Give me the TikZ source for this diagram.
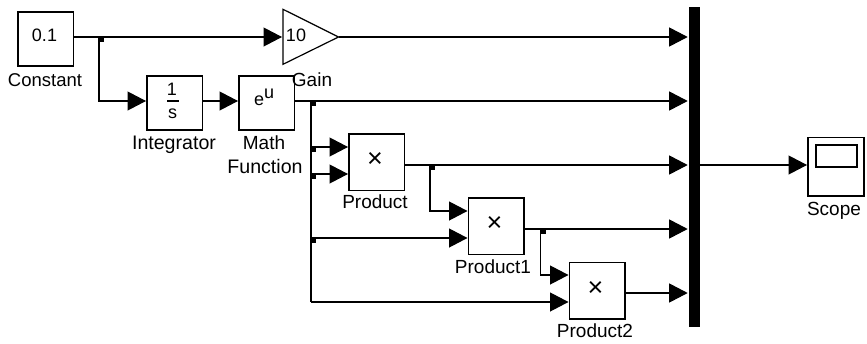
\documentclass[tikz,border=0pt]{standalone}
\usepackage{fontspec}
\setmainfont{Liberation Sans}
\usetikzlibrary{arrows.meta,calc}
\tikzset{
  x=1pt,y=-1pt,
  blockbox/.style={draw=black,line width=1.2pt,fill=white,rectangle,inner sep=0pt,outer sep=0pt,anchor=north west,minimum width=#1},
  blockbox/.default=55.5pt,
  lbl/.style={anchor=base,inner sep=0pt,outer sep=0pt,font=\fontsize{19}{20}\selectfont},
  lblwide/.style={lbl,font=\fontsize{19.6}{20}\selectfont},
  lblnarrow/.style={lbl,font=\fontsize{18.5}{20}\selectfont},
  inner/.style={anchor=base,inner sep=0pt,outer sep=0pt,font=\fontsize{18}{20}\selectfont},
  timeslbl/.style={anchor=center,inner sep=0pt,outer sep=0pt,font=\fontsize{27}{27}\selectfont},
  wire/.style={line width=1.1pt,draw=black},
  arrowwire/.style={wire,-{Triangle[length=18.5pt,width=19pt]},shorten >=1pt},
  junction/.style={fill=black,rectangle,inner sep=0pt,outer sep=0pt,minimum size=5.2pt,anchor=north west},
}
\begin{document}
\begin{tikzpicture}
\useasboundingbox (0,0) rectangle (867,343);
% blocks
\node[blockbox,minimum height=54pt] (const) at (18,12) {};
\node[blockbox,minimum height=54pt] (integ) at (147,76) {};
\node[blockbox,minimum height=54pt] (math) at (239,76) {};
\node[blockbox,minimum height=56.5pt] (prodA) at (349,134) {};
\node[blockbox,minimum height=56.5pt] (prodB) at (468.5,198) {};
\node[blockbox,minimum height=56.5pt] (prodC) at (569.5,262.5) {};
\node[blockbox=56pt,minimum height=58.5pt] (scope) at (808,137.5) {};
\node[draw=black,line width=1.2pt,inner sep=0pt,outer sep=0pt,anchor=north west,minimum width=41pt,minimum height=22pt] (screen) at (816,145) {};
\node[fill=black,inner sep=0pt,outer sep=0pt,anchor=north west,minimum width=11pt,minimum height=320pt] (bus) at (688.7,7) {};
% gain triangle
\coordinate (gainin) at (283,37);
\coordinate (gainout) at (338.5,37);
\draw[line width=1.2pt,line join=miter] (283,9.3) -- (gainout) -- (283,64.3) -- cycle;
% ports
\coordinate (pAa) at (349,147);
\coordinate (pAb) at (349,174);
\coordinate (pBa) at (468.5,211);
\coordinate (pBb) at (468.5,238);
\coordinate (pCa) at (569.5,275);
\coordinate (pCb) at (569.5,302);
\coordinate (pAo) at (404.5,165);
\coordinate (pBo) at (524,229);
\coordinate (pCo) at (625,293);
\coordinate (cout) at (73.5,37);
\coordinate (iin) at (147,101);
\coordinate (iout) at (202.5,101);
\coordinate (min) at (239,101);
\coordinate (mout) at (294.5,101);
\coordinate (scin) at (808,165);
% junction anchors on the wires
\coordinate (ja) at (99,37);
\coordinate (jb) at (311,101);
\coordinate (jc) at (430,165);
\coordinate (jd) at (540.3,229);
% wires
\draw[arrowwire] (cout) -- (gainin);
\draw[arrowwire] (ja) |- (iin);
\draw[arrowwire] (iout) -- (min);
\draw[arrowwire] (gainout) -- (bus.west |- gainout);
\draw[arrowwire] (mout) -- (bus.west |- mout);
\draw[arrowwire] (pAo) -- (bus.west |- pAo);
\draw[arrowwire] (pBo) -- (bus.west |- pBo);
\draw[arrowwire] (pCo) -- (bus.west |- pCo);
\draw[arrowwire] (bus.east |- scin) -- (scin);
\draw[wire] (jb) -- (jb |- pCb);
\draw[arrowwire] (jb |- pAa) -- (pAa);
\draw[arrowwire] (jb |- pAb) -- (pAb);
\draw[arrowwire] (jb |- pBb) -- (pBb);
\draw[arrowwire] (jb |- pCb) -- (pCb);
\draw[arrowwire] (jc) |- (pBa);
\draw[arrowwire] (jd) |- (pCa);
% junction dots
\node[junction] (dotA) at (ja) {};
\node[junction] (dotB) at (jb) {};
\node[junction] (dotC) at (jb |- pAa) {};
\node[junction] (dotD) at (jb |- pAb) {};
\node[junction] (dotE) at (jb |- pBb) {};
\node[junction] (dotF) at (jc) {};
\node[junction] (dotG) at (jd) {};
% block contents
\node[inner] (tconst) at (44.5,41) {0.1};
\node[inner] (tgain) at (296,41) {10};
\node[inner] (tone) at (172,95) {1};
\draw[line width=1.1pt] (167,101) -- (178.5,101);
\node[inner] (ts) at (172.5,118) {s};
\node[inner,anchor=base west] (texp) at (254,105) {e\raisebox{6.5pt}{u}};
\node[timeslbl] (tA) at (375,160) {×};
\node[timeslbl] (tB) at (494.5,224) {×};
\node[timeslbl] (tC) at (595.5,288.5) {×};
% labels
\node[lblnarrow] (lconst) at (45,86) {Constant};
\node[lbl] (lgain) at (312,86) {Gain};
\node[lblwide] (linteg) at (174,149) {Integrator};
\node[lbl] (lmatha) at (264,149) {Math};
\node[lblwide] (lmathb) at (265,173) {Function};
\node[lbl] (lprodA) at (375,208) {Product};
\node[lbl] (lprodB) at (493,273) {Product1};
\node[lbl] (lprodC) at (595,337) {Product2};
\node[lbl] (lscope) at (834,215) {Scope};
\end{tikzpicture}
\end{document}
